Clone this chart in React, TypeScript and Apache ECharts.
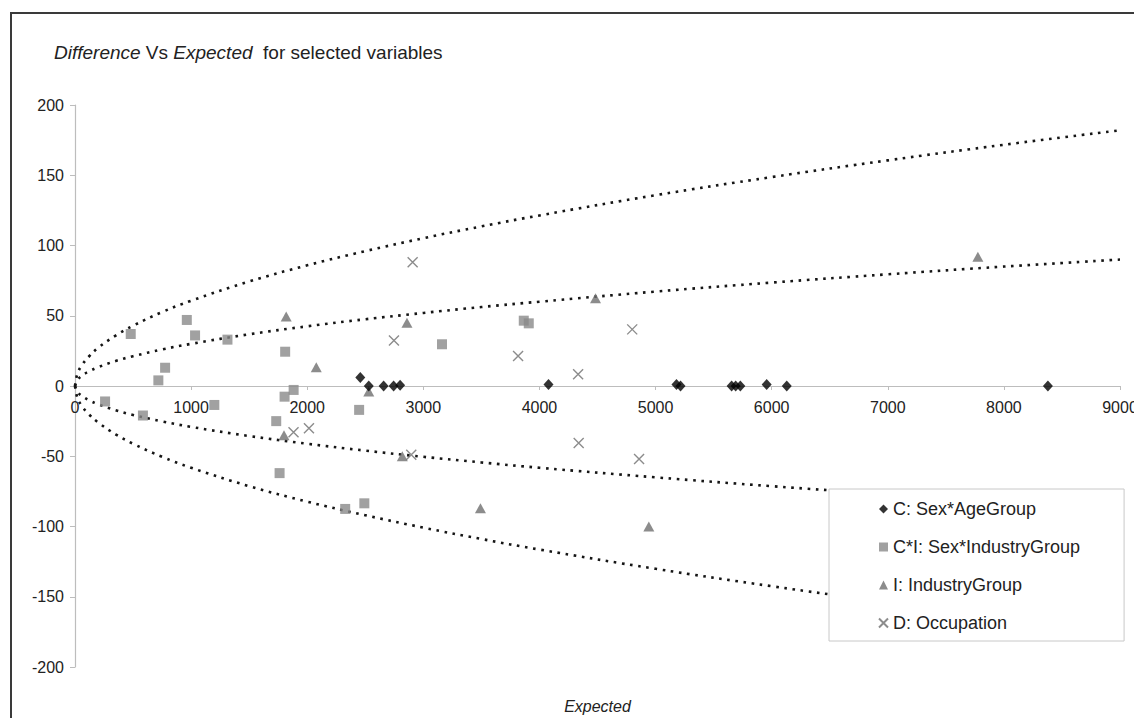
import React, { useEffect, useRef } from "react";
import * as echarts from "echarts";

// Sex*AgeGroup  [expected, difference]
const sexAgeGroup: number[][] = [
  [2457, 6], [2530, 0], [2658, 0], [2744, 0], [2800, 0.5], [4078, 1], [5180, 1],
  [5215, 0], [5655, 0], [5690, 0], [5730, 0], [5957, 1], [6130, 0], [8379, 0],
];

// Sex*IndustryGroup
const sexIndustryGroup: number[][] = [
  [259, -11], [480, 37], [585, -21], [718, 4], [776, 13], [963, 47], [1034, 36],
  [1200, -13.5], [1313, 33], [1733, -25], [1762, -62], [1805, -7.6], [1810, 24.4],
  [1883, -2.8], [2327, -87.5], [2447, -17], [2492, -83.5], [3161, 29.7],
  [3865, 46.5], [3908, 44.6],
];

// IndustryGroup
const industryGroup: number[][] = [
  [1800, -35], [1819, 49.5], [2078, 13.3], [2530, -4], [2819, -50], [2859, 45],
  [3492, -87], [4483, 62.5], [4942, -100], [7776, 92],
];

// Occupation
const occupation: number[][] = [
  [1882, -33], [2015, -30], [2747, 32.3], [2896, -49], [2908, 88], [3816, 21.4],
  [4333, 8.3], [4338, -40.5], [4799, 40.3], [4858, -52],
];

// Dotted envelope curves, sampled along the expected axis
const envelopeX = [0, 20, 60, 120, 200, 350, 500, 750, 1000, 1500, 2000, 2500, 3000, 3500, 4000, 5000, 6000, 7000, 8000, 9000];
const innerUpper = [0, 4.2, 7.4, 10.4, 13.4, 17.8, 21.2, 26, 30, 36.8, 42.5, 47.5, 52, 56.2, 60, 67.2, 73.6, 79.5, 85, 90];
const outerUpper = [0, 8.6, 14.9, 21, 27.2, 35.9, 42.9, 52.6, 60.7, 74.4, 85.9, 96, 105.2, 113.6, 121.4, 135.8, 148.7, 160.6, 171.7, 182];
const innerLower = [0, -4.1, -7.1, -10.1, -13, -17.2, -20.6, -25.2, -29.1, -35.6, -41.1, -46, -50.4, -54.4, -58.2, -65, -71.3, -77, -82.3, -87.3];
const outerLower = [0, -8.2, -14.3, -20.2, -26, -34.4, -41.1, -50.4, -58.2, -71.3, -82.3, -92, -100.8, -108.9, -116.4, -130.1, -142.5, -153.9, -164.6, -174.6];

const xTicks = { min: 0, max: 9000, interval: 1000 };
const yTicks = { min: -200, max: 200, interval: 50 };

const FONT = "'Liberation Sans', Arial, Helvetica, sans-serif";
const CROSS = "path://M0 0L10 10M10 0L0 10";

const GRID_TOP = 105;
const GRID_HEIGHT = 562;

const pair = (xs: number[], ys: number[]) => xs.map((x, i) => [x, ys[i]]);

export default function App() {
  const ref = useRef<HTMLDivElement>(null);

  useEffect(() => {
    if (!ref.current) return;
    const chart = echarts.init(ref.current, undefined, { renderer: "svg" });

    const curve = (name: string, ys: number[]) => ({
      name,
      type: "line",
      data: pair(envelopeX, ys),
      showSymbol: false,
      smooth: 0.4,
      silent: true,
      z: 1,
      lineStyle: { color: "#151515", width: 2.6, type: [2.6, 5.6] },
    });

    chart.setOption({
      animation: false,
      backgroundColor: "#ffffff",
      textStyle: { fontFamily: FONT },
      title: {
        text: "{i|Difference} Vs {i|Expected}  for selected variables",
        left: 49,
        top: 38,
        textStyle: {
          fontFamily: FONT,
          fontSize: 19,
          fontWeight: "normal",
          color: "#222",
          rich: {
            i: { fontFamily: FONT, fontSize: 19, fontStyle: "italic", color: "#222" },
          },
        },
      },
      graphic: [
        {
          type: "rect",
          shape: { x: 11, y: 13, width: 1300, height: 900 },
          style: { fill: "none", stroke: "#3a3a3a", lineWidth: 2 },
          silent: true,
        },
      ],
      legend: {
        orient: "vertical",
        left: 829,
        top: 489,
        padding: [10, 44, 8, 49],
        itemGap: 18,
        itemWidth: 9,
        itemHeight: 9,
        backgroundColor: "#ffffff",
        borderColor: "#c8c8c8",
        borderWidth: 1,
        borderRadius: 0,
        textStyle: { fontFamily: FONT, fontSize: 18, lineHeight: 20, color: "#222" },
        data: [
          "C: Sex*AgeGroup",
          "C*I: Sex*IndustryGroup",
          "I: IndustryGroup",
          "D: Occupation",
        ],
      },
      grid: {
        left: 75,
        top: GRID_TOP,
        width: 1045,
        height: GRID_HEIGHT,
        containLabel: false,
        outerBoundsMode: "none",
      },
      xAxis: {
        type: "value",
        ...xTicks,
        // the horizontal axis crosses the vertical one at zero (mid-height)
        offset: -GRID_HEIGHT / 2,
        name: "Expected",
        nameLocation: "middle",
        nameGap: 312,
        nameTextStyle: { fontFamily: FONT, fontSize: 16, fontStyle: "italic", color: "#222" },
        axisLine: { onZero: false, lineStyle: { color: "#bdbdbd", width: 1.2 } },
        axisTick: { show: true, length: 4, lineStyle: { color: "#bdbdbd" } },
        axisLabel: {
          fontFamily: FONT,
          fontSize: 16,
          color: "#222",
          margin: 13,
          formatter: (v: number) => String(v),
        },
        splitLine: { show: false },
      },
      yAxis: {
        type: "value",
        ...yTicks,
        axisLine: { show: true, onZero: false, lineStyle: { color: "#bdbdbd", width: 1.2 } },
        axisTick: { show: true, length: 5, lineStyle: { color: "#bdbdbd" } },
        axisLabel: {
          fontFamily: FONT,
          fontSize: 16,
          color: "#222",
          margin: 11,
          formatter: (v: number) => String(v),
        },
        splitLine: { show: false },
      },
      series: [
        curve("outerUpper", outerUpper),
        curve("innerUpper", innerUpper),
        curve("innerLower", innerLower),
        curve("outerLower", outerLower),
        {
          name: "C: Sex*AgeGroup",
          type: "scatter",
          data: sexAgeGroup,
          symbol: "diamond",
          symbolSize: [10, 11],
          z: 5,
          itemStyle: { color: "#000000" },
        },
        {
          name: "C*I: Sex*IndustryGroup",
          type: "scatter",
          data: sexIndustryGroup,
          symbol: "rect",
          symbolSize: 10,
          z: 3,
          itemStyle: { color: "#8a8a8a" },
        },
        {
          name: "I: IndustryGroup",
          type: "scatter",
          data: industryGroup,
          symbol: "triangle",
          symbolSize: [11, 10],
          z: 4,
          itemStyle: { color: "#6f6f6f" },
        },
        {
          name: "D: Occupation",
          type: "scatter",
          data: occupation,
          symbol: CROSS,
          symbolSize: 10,
          z: 4,
          itemStyle: { color: "rgba(0,0,0,0)", borderColor: "#6f6f6f", borderWidth: 1.4 },
        },
      ],
    });

    return () => chart.dispose();
  }, []);

  return (
    <div
      ref={ref}
      style={{ position: "fixed", left: 0, top: 0, width: 1134, height: 718, background: "#fff" }}
    />
  );
}
